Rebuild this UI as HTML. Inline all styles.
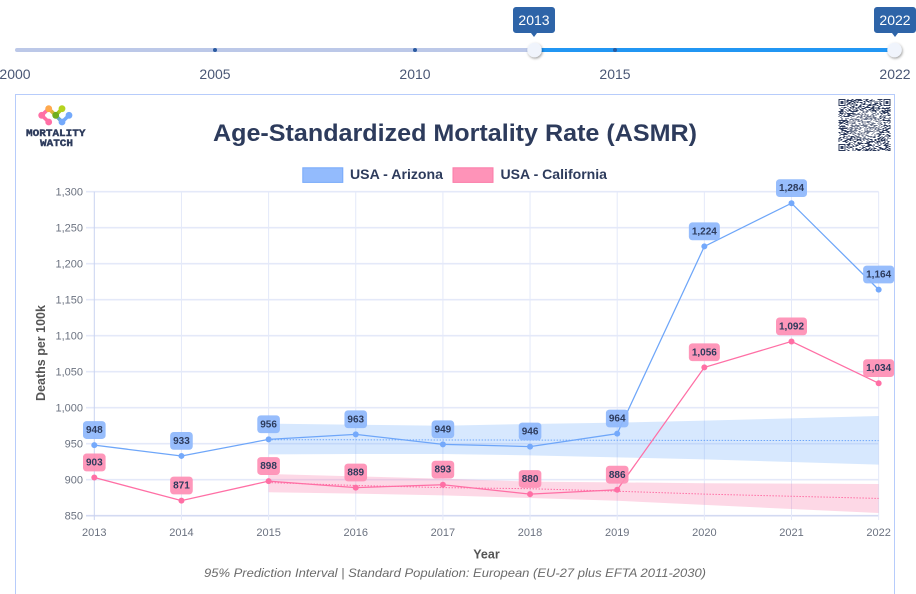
<!DOCTYPE html>
<html lang="en">
<head>
<meta charset="utf-8">
<title>Age-Standardized Mortality Rate (ASMR)</title>
<style>
html,body{margin:0;padding:0;background:#fff;width:916px;height:594px;overflow:hidden}
svg{display:block;font-family:"Liberation Sans",sans-serif}
</style>
</head>
<body>
<svg id="root" width="916" height="594" viewBox="0 0 916 594" xmlns="http://www.w3.org/2000/svg">
<defs>
<filter id="handle-shadow" x="-60%" y="-60%" width="220%" height="220%"><feDropShadow dx="0.8" dy="1.2" stdDeviation="1.3" flood-color="#000" flood-opacity="0.4"/></filter>
</defs>

<g id="slider"></g>

<rect x="15.5" y="94.5" width="879" height="520" fill="#fff" stroke="#b7ccfb" stroke-width="1"/>

<g>
  <g fill="none" stroke-width="3.6" stroke-linecap="round">
    <path d="M41.7 115.3L48.7 108.7" stroke="#ff6fa5"/>
    <path d="M41.7 115.3L48.7 122" stroke="#ff6fa5"/>
    <path d="M48.7 108.7L55.7 115.3" stroke="#d9b53a"/>
    <path d="M62 108.7L55.7 115.3" stroke="#a5c91e"/>
    <path d="M55.7 115.3L62 122" stroke="#6aa8c8"/>
    <path d="M62 122L69 115.3" stroke="#74a9fb"/>
  </g>
  <circle cx="48.7" cy="108.7" r="3.4" fill="#ffa94d"/>
  <circle cx="62" cy="108.7" r="3.4" fill="#b5d31f"/>
  <circle cx="41.7" cy="115.3" r="3.4" fill="#ff6fa5"/>
  <circle cx="55.7" cy="115.3" r="3.4" fill="#6fae1e"/>
  <circle cx="69" cy="115.3" r="3.4" fill="#74a9fb"/>
  <circle cx="48.7" cy="122" r="3.4" fill="#ff6fa5"/>
  <circle cx="62" cy="122" r="3.4" fill="#74a9fb"/>
  <text x="26" y="136" font-family="'Liberation Mono',monospace" font-weight="700" font-size="10" fill="#2d3b5c" stroke="#2d3b5c" stroke-width="0.4" textLength="59.5" lengthAdjust="spacingAndGlyphs">MORTALITY</text>
  <text x="40" y="146.2" font-family="'Liberation Mono',monospace" font-weight="700" font-size="10" fill="#2d3b5c" stroke="#2d3b5c" stroke-width="0.4" textLength="33" lengthAdjust="spacingAndGlyphs">WATCH</text>
</g>

<g id="qr"></g>

<text x="455" y="141" text-anchor="middle" font-size="24" font-weight="700" fill="#2d3b5c" textLength="484" lengthAdjust="spacingAndGlyphs">Age-Standardized Mortality Rate (ASMR)</text>

<g>
  <rect x="302.8" y="167.8" width="40" height="14.6" fill="#93bbfd" stroke="#76a9fa" stroke-width="1"/>
  <text x="350" y="179" font-size="14" font-weight="700" fill="#2d3b5c" textLength="93" lengthAdjust="spacingAndGlyphs">USA - Arizona</text>
</g>
<g>
  <rect x="453" y="167.8" width="40" height="14.6" fill="#fe93b8" stroke="#fb7ba8" stroke-width="1"/>
  <text x="500.5" y="179" font-size="14" font-weight="700" fill="#2d3b5c" textLength="106.5" lengthAdjust="spacingAndGlyphs">USA - California</text>
</g>

<g id="chart"></g>

<text x="0" y="0" transform="translate(45 353) rotate(-90)" text-anchor="middle" font-size="12.5" font-weight="700" fill="#555">Deaths per 100k</text>
<text x="486.5" y="558.5" text-anchor="middle" font-size="12.5" font-weight="700" fill="#555">Year</text>
<text x="455" y="577" text-anchor="middle" font-size="12" font-style="italic" fill="#6b6b6b" textLength="502" lengthAdjust="spacingAndGlyphs">95% Prediction Interval | Standard Population: European (EU-27 plus EFTA 2011-2030)</text>
</svg>

<script>
// ---- chart data ----
const years = [2013, 2014, 2015, 2016, 2017, 2018, 2019, 2020, 2021, 2022];
const arizonaValues = [948, 933, 956, 963, 949, 946, 964, 1224, 1284, 1164];
const californiaValues = [903, 871, 898, 889, 893, 880, 886, 1056, 1092, 1034];
const bandYears = [2015, 2016, 2017, 2018, 2019, 2020, 2021, 2022];
const arizonaBandUpper = [977.8, 976.4, 975, 977.4, 979.2, 982, 985.2, 988.5];
const arizonaBandLower = [935.2, 935.7, 935.7, 933.8, 931, 928.3, 924.6, 920.9];
const arizonaBaseline = [955.5, 955.4, 955.2, 955, 954.8, 954.6, 954.4, 954.2];
const californiaBandUpper = [907.9, 904.7, 901.4, 897.3, 896.3, 895, 894.5, 894];
const californiaBandLower = [882.5, 880.6, 878.3, 874.6, 870.8, 865, 859.3, 853.8];
const californiaBaseline = [896, 892, 889, 887.5, 884, 880, 877, 874];
const yTicks = [850, 900, 950, 1000, 1050, 1100, 1150, 1200, 1250, 1300];
// ---- slider data ----
const sliderMarks = [2000, 2005, 2010, 2015, 2022];
const sliderInnerDots = [2005, 2010, 2015];
const sliderRange = [2013, 2022];

const NS = 'http://www.w3.org/2000/svg';
const chart = document.getElementById('chart');
const slider = document.getElementById('slider');
const qr = document.getElementById('qr');
function mk(tag, attrs, parent) {
  const el = document.createElementNS(NS, tag);
  for (const k in attrs) el.setAttribute(k, attrs[k]);
  parent.appendChild(el);
  return el;
}
const fmt = v => v.toLocaleString('en-US');

// axis functions
const xScale = yr => 94.3 + (yr - 2013) * 87.15;
const yScale = v => 515.7 - (v - 850) * 0.72;
const sliderX = yr => 15 + (yr - 2000) * 40;

// ---- slider ----
{
  let el = mk('rect', {x: sliderX(2000), y: 48, width: sliderX(2022) - sliderX(2000), height: 4, rx: 2, fill: '#bcc8e8'}, slider);
  
  
  el = mk('rect', {x: sliderX(sliderRange[0]), y: 48, width: sliderX(sliderRange[1]) - sliderX(sliderRange[0]), height: 4, fill: '#2196f3'}, slider);
  
  
  sliderInnerDots.forEach(yr => {
    const d = mk('circle', {cx: sliderX(yr), cy: 50, r: 2, fill: '#2a5ba0'}, slider);
    
    
  });
  sliderMarks.forEach(yr => {
    const t = mk('text', {x: sliderX(yr), y: 79, 'text-anchor': 'middle', 'font-size': 14, fill: '#4a5775'}, slider);
    t.textContent = yr;
    
    
  });
  sliderRange.forEach(yr => {
    const cx = sliderX(yr) - (yr === 2013 ? 1 : 0);
    const h = mk('circle', {cx: sliderX(yr) - 0.5, cy: 50, r: 7.2, fill: '#f0f4fc', filter: 'url(#handle-shadow)'}, slider);
    
    
    const p = mk('path', {d: 'M' + (cx - 21) + ' 10a3 3 0 0 1 3-3h36a3 3 0 0 1 3 3v20a3 3 0 0 1-3 3h-15l-3 4-3-4h-15a3 3 0 0 1-3-3z', fill: '#2e64a8'}, slider);
    
    
    const t = mk('text', {x: cx, y: 25, 'text-anchor': 'middle', 'font-size': 14, fill: '#fff'}, slider);
    t.textContent = yr;
    
    
  });
}

// ---- decorative QR modules ----
{
  const size = 52, ox = 838.5, oy = 99;
  let seed = 0x2f6e2b1, d = '';
  const nextBit = () => { seed ^= seed << 13; seed ^= seed >>> 17; seed ^= seed << 5; return seed & 1; };
  const inFinder = (c, r) => (c < 8 && r < 8) || (c >= size - 8 && r < 8) || (c < 8 && r >= size - 8);
  for (let r = 0; r < size; r++) {
    for (let c = 0; c < size; c++) {
      const b = nextBit();
      if (!inFinder(c, r) && b) d += 'M' + (ox + c) + ' ' + (oy + r) + 'h1v1h-1z';
    }
  }
  const modules = mk('path', {d: d, fill: '#2d3b5c', 'shape-rendering': 'crispEdges'}, qr);
  
  
  [[0, 0], [size - 7, 0], [0, size - 7]].forEach(([c, r]) => {
    const a = mk('rect', {x: ox + c + 0.5, y: oy + r + 0.5, width: 6, height: 6, fill: 'none', stroke: '#2d3b5c', 'stroke-width': 1, 'shape-rendering': 'crispEdges'}, qr);
    
    
    const b = mk('rect', {x: ox + c + 2, y: oy + r + 2, width: 3, height: 3, fill: '#2d3b5c', 'shape-rendering': 'crispEdges'}, qr);
    
    
  });
  const glow = mk('ellipse', {cx: ox + 26, cy: oy + 26, rx: 17, ry: 15, fill: '#fff', opacity: 0.3}, qr);
  
  
}

// ---- grid and axes ----
yTicks.forEach(v => {
  const isBase = v === yTicks[0];
  const line = mk('line', {x1: 86, x2: xScale(2022), y1: yScale(v), y2: yScale(v), stroke: isBase ? '#d3daf2' : '#e4e9f9', 'stroke-width': 1.6}, chart);
  
  
  const label = mk('text', {x: 83, y: yScale(v) + 3.9, 'text-anchor': 'end', 'font-size': 11, fill: '#6b7280'}, chart);
  label.textContent = fmt(v);
  
  
});
years.forEach((yr, i) => {
  const line = mk('line', {x1: xScale(yr), x2: xScale(yr), y1: yScale(1300), y2: 520, stroke: i === 0 ? '#c9d3f0' : '#e4e9f9', 'stroke-width': 1}, chart);
  
  
  const label = mk('text', {x: xScale(yr), y: 536, 'text-anchor': 'middle', 'font-size': 11, fill: '#6b7280'}, chart);
  label.textContent = yr;
  
  
});

// ---- prediction bands and baselines ----
const pathFrom = (xs, vs) => xs.map((yr, i) => (i ? 'L' : 'M') + xScale(yr).toFixed(2) + ' ' + yScale(vs[i]).toFixed(2)).join('');
function bandPath(upper, lower) {
  const revYears = bandYears.slice().reverse();
  const revLower = lower.slice().reverse();
  return pathFrom(bandYears, upper) + pathFrom(revYears, revLower).replace('M', 'L') + 'Z';
}
{
  let el = mk('path', {d: bandPath(arizonaBandUpper, arizonaBandLower), fill: '#60a5fa', 'fill-opacity': 0.25}, chart);
  
  
  el = mk('path', {d: bandPath(californiaBandUpper, californiaBandLower), fill: '#f9699f', 'fill-opacity': 0.26}, chart);
  
  
  el = mk('path', {d: pathFrom(bandYears, arizonaBaseline), fill: 'none', stroke: '#6ea6f9', 'stroke-width': 1, 'stroke-dasharray': '1.5 1.5'}, chart);
  
  
  el = mk('path', {d: pathFrom(bandYears, californiaBaseline), fill: 'none', stroke: '#ff6fa5', 'stroke-width': 1, 'stroke-dasharray': '1.5 1.5'}, chart);
  
  
}

// ---- series lines and points ----
{
  let el = mk('path', {d: pathFrom(years, arizonaValues), fill: 'none', stroke: '#6ea6f9', 'stroke-width': 1.25}, chart);
  
  
  el = mk('path', {d: pathFrom(years, californiaValues), fill: 'none', stroke: '#ff6fa5', 'stroke-width': 1.25}, chart);
  
  
}
years.forEach((yr, i) => {
  const a = mk('circle', {cx: xScale(yr), cy: yScale(arizonaValues[i]), r: 3, fill: '#74a9fb'}, chart);
  
  
  const c = mk('circle', {cx: xScale(yr), cy: yScale(californiaValues[i]), r: 3, fill: '#ff6fa5'}, chart);
  
  
});

// ---- value labels ----
function drawLabel(yr, v, bg, boxName, textName) {
  const txt = fmt(v);
  const w = txt.length > 3 ? 31 : 22.6;
  const cy = yScale(v);
  const box = mk('rect', {x: xScale(yr) - w / 2, y: cy - 24, width: w, height: 17.8, rx: 3.5, fill: bg, 'fill-opacity': 0.93}, chart);
  
  
  const t = mk('text', {x: xScale(yr), y: cy - 12, 'text-anchor': 'middle', 'font-size': 10, 'font-weight': 700, fill: '#2d3b5c'}, chart);
  t.textContent = txt;
  
  
}
years.forEach((yr, i) => drawLabel(yr, arizonaValues[i], '#8fb8fc', 'arizona-value-badge', 'arizona-value-label'));
years.forEach((yr, i) => drawLabel(yr, californiaValues[i], '#fe8fb5', 'california-value-badge', 'california-value-label'));
</script>
</body>
</html>
